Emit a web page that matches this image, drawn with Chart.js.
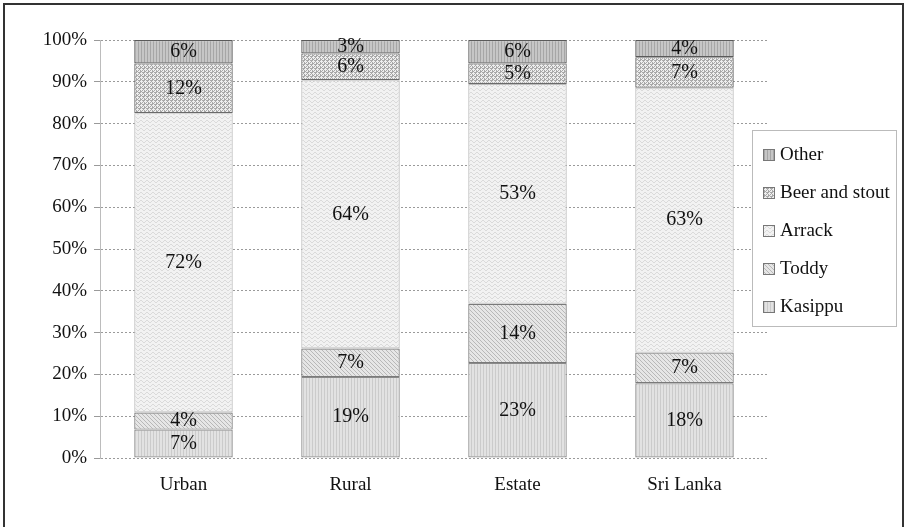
<!DOCTYPE html>
<html>
<head>
<meta charset="utf-8">
<script src="https://cdn.jsdelivr.net/npm/chart.js@4"></script>
<style>
  body { margin: 0; background: #fff; }
  #wrap { position: relative; width: 905px; height: 527px; overflow: hidden; }
  #frame { position: absolute; left: 3px; top: 3px; width: 897px; height: 540px; border: 2px solid #333; pointer-events: none; }
  #legend { position: absolute; left: 752px; top: 130px; width: 143px; height: 195px; border: 1px solid #bbb; background: #fff;
            font-family: "Liberation Serif", serif; font-size: 19px; color: #111; }
  #legend div { position: absolute; left: 10px; height: 22px; line-height: 22px; white-space: nowrap; }
  #legend canvas { vertical-align: -1px; margin-right: 5px; border: 1px solid #777; }
</style>
</head>
<body>
<div id="wrap">
  <canvas id="chart" width="905" height="527"></canvas>
  <div id="legend"></div>
  <div id="frame"></div>
</div>
<script>
const categories = ['Urban', 'Rural', 'Estate', 'Sri Lanka'];
const kasippu = [6.8, 19.4, 22.7, 17.9];
const toddy = [4.1, 6.8, 14.2, 7.3];
const arrack = [71.6, 64.2, 52.6, 63.4];
const beer = [11.9, 6.4, 4.9, 7.3];
const other = [5.6, 3.2, 5.6, 4.1];
const yTicks = ['0%', '10%', '20%', '30%', '40%', '50%', '60%', '70%', '80%', '90%', '100%'];

// small tiled fills for each drink
function makePattern(kind) {
  const c = document.createElement('canvas');
  const g = c.getContext('2d');
  if (kind === 'vlines') {
    c.width = 3; c.height = 3;
    g.fillStyle = '#e2e2e2'; g.fillRect(0, 0, 3, 3);
    g.fillStyle = '#cbcbcb'; g.fillRect(0, 0, 1, 3);
  } else if (kind === 'diag') {
    c.width = 4; c.height = 4;
    g.fillStyle = '#e6e6e6'; g.fillRect(0, 0, 4, 4);
    g.fillStyle = '#b8b8b8';
    for (let i = 0; i < 4; i++) g.fillRect(i, i, 1, 1);
  } else if (kind === 'wave') {
    c.width = 6; c.height = 4;
    g.fillStyle = '#f2f2f2'; g.fillRect(0, 0, 6, 4);
    g.fillStyle = '#dadada';
    [[0, 2], [1, 1], [2, 0], [3, 0], [4, 1], [5, 2]].forEach(p => g.fillRect(p[0], p[1], 1, 1));
  } else if (kind === 'check') {
    c.width = 4; c.height = 4;
    g.fillStyle = '#a8a8a8'; g.fillRect(0, 0, 4, 4);
    g.fillStyle = '#eeeeee';
    g.fillRect(1, 0, 1, 1); g.fillRect(0, 1, 3, 1); g.fillRect(1, 2, 1, 1);
    g.fillRect(3, 2, 1, 1); g.fillRect(2, 3, 2, 1);
  } else {
    c.width = 3; c.height = 3;
    g.fillStyle = '#c6c6c6'; g.fillRect(0, 0, 3, 3);
    g.fillStyle = '#a6a6a6'; g.fillRect(0, 0, 1, 3);
  }
  return c;
}

const ctx = document.getElementById('chart').getContext('2d');
const fills = {
  kasippu: ctx.createPattern(makePattern('vlines'), 'repeat'),
  toddy: ctx.createPattern(makePattern('diag'), 'repeat'),
  arrack: ctx.createPattern(makePattern('wave'), 'repeat'),
  beer: ctx.createPattern(makePattern('check'), 'repeat'),
  other: ctx.createPattern(makePattern('other'), 'repeat')
};

const datasets = [
  { label: 'Kasippu', data: kasippu, backgroundColor: fills.kasippu, borderColor: '#8a8a8a', kind: 'vlines' },
  { label: 'Toddy', data: toddy, backgroundColor: fills.toddy, borderColor: '#7a7a7a', kind: 'diag' },
  { label: 'Arrack', data: arrack, backgroundColor: fills.arrack, borderColor: '#bdbdbd', kind: 'wave' },
  { label: 'Beer and stout', data: beer, backgroundColor: fills.beer, borderColor: '#6a6a6a', kind: 'check' },
  { label: 'Other', data: other, backgroundColor: fills.other, borderColor: '#5a5a5a', kind: 'other' }
].map(ds => Object.assign(ds, {
  borderWidth: 1.2,
  borderSkipped: false,
  categoryPercentage: 1,
  barPercentage: 0.59
}));

// percentage labels centred in each segment
const segmentLabels = {
  id: 'segmentLabels',
  afterDatasetsDraw(chart) {
    const c = chart.ctx;
    c.save();
    c.font = '20px "Liberation Serif"';
    c.fillStyle = '#111';
    c.textAlign = 'center';
    c.textBaseline = 'middle';
    chart.data.datasets.forEach((ds, i) => {
      chart.getDatasetMeta(i).data.forEach((bar, j) => {
        const y = (bar.y + bar.base) / 2;
        c.fillText(Math.round(ds.data[j]) + '%', bar.x, y);
      });
    });
    c.restore();
  }
};

new Chart(ctx, {
  type: 'bar',
  data: { labels: categories, datasets: datasets },
  options: {
    responsive: false,
    animation: false,
    layout: { padding: { left: 10, top: 40, right: 137, bottom: 0 } },
    plugins: { legend: { display: false }, tooltip: { enabled: false } },
    scales: {
      x: {
        stacked: true,
        grid: { display: false },
        border: { display: false },
        ticks: { color: '#111', font: { family: 'Liberation Serif', size: 19 }, padding: 8 },
        afterFit: s => { s.height = 69; }
      },
      y: {
        stacked: true,
        min: 0,
        max: 100,
        afterFit: s => { s.width = 90; },
        grid: { color: '#9a9a9a', lineWidth: 1, tickLength: 6, tickColor: '#9a9a9a' },
        border: { display: true, color: '#bcbcbc', dash: [2, 2] },
        ticks: {
          stepSize: 10,
          padding: 7,
          color: '#111',
          font: { family: 'Liberation Serif', size: 19 },
          callback: (v, i) => yTicks[i]
        }
      }
    }
  },
  plugins: [segmentLabels]
});

// legend box, topmost entry first
const legend = document.getElementById('legend');
datasets.slice().reverse().forEach((ds, i) => {
  const row = document.createElement('div');
  row.style.top = (12 + i * 38) + 'px';
  const sw = document.createElement('canvas');
  sw.width = 10; sw.height = 10;
  const sg = sw.getContext('2d');
  sg.fillStyle = sg.createPattern(makePattern(ds.kind), 'repeat');
  sg.fillRect(0, 0, 10, 10);
  row.appendChild(sw);
  row.appendChild(document.createTextNode(ds.label));
  legend.appendChild(row);
});
</script>
</body>
</html>
